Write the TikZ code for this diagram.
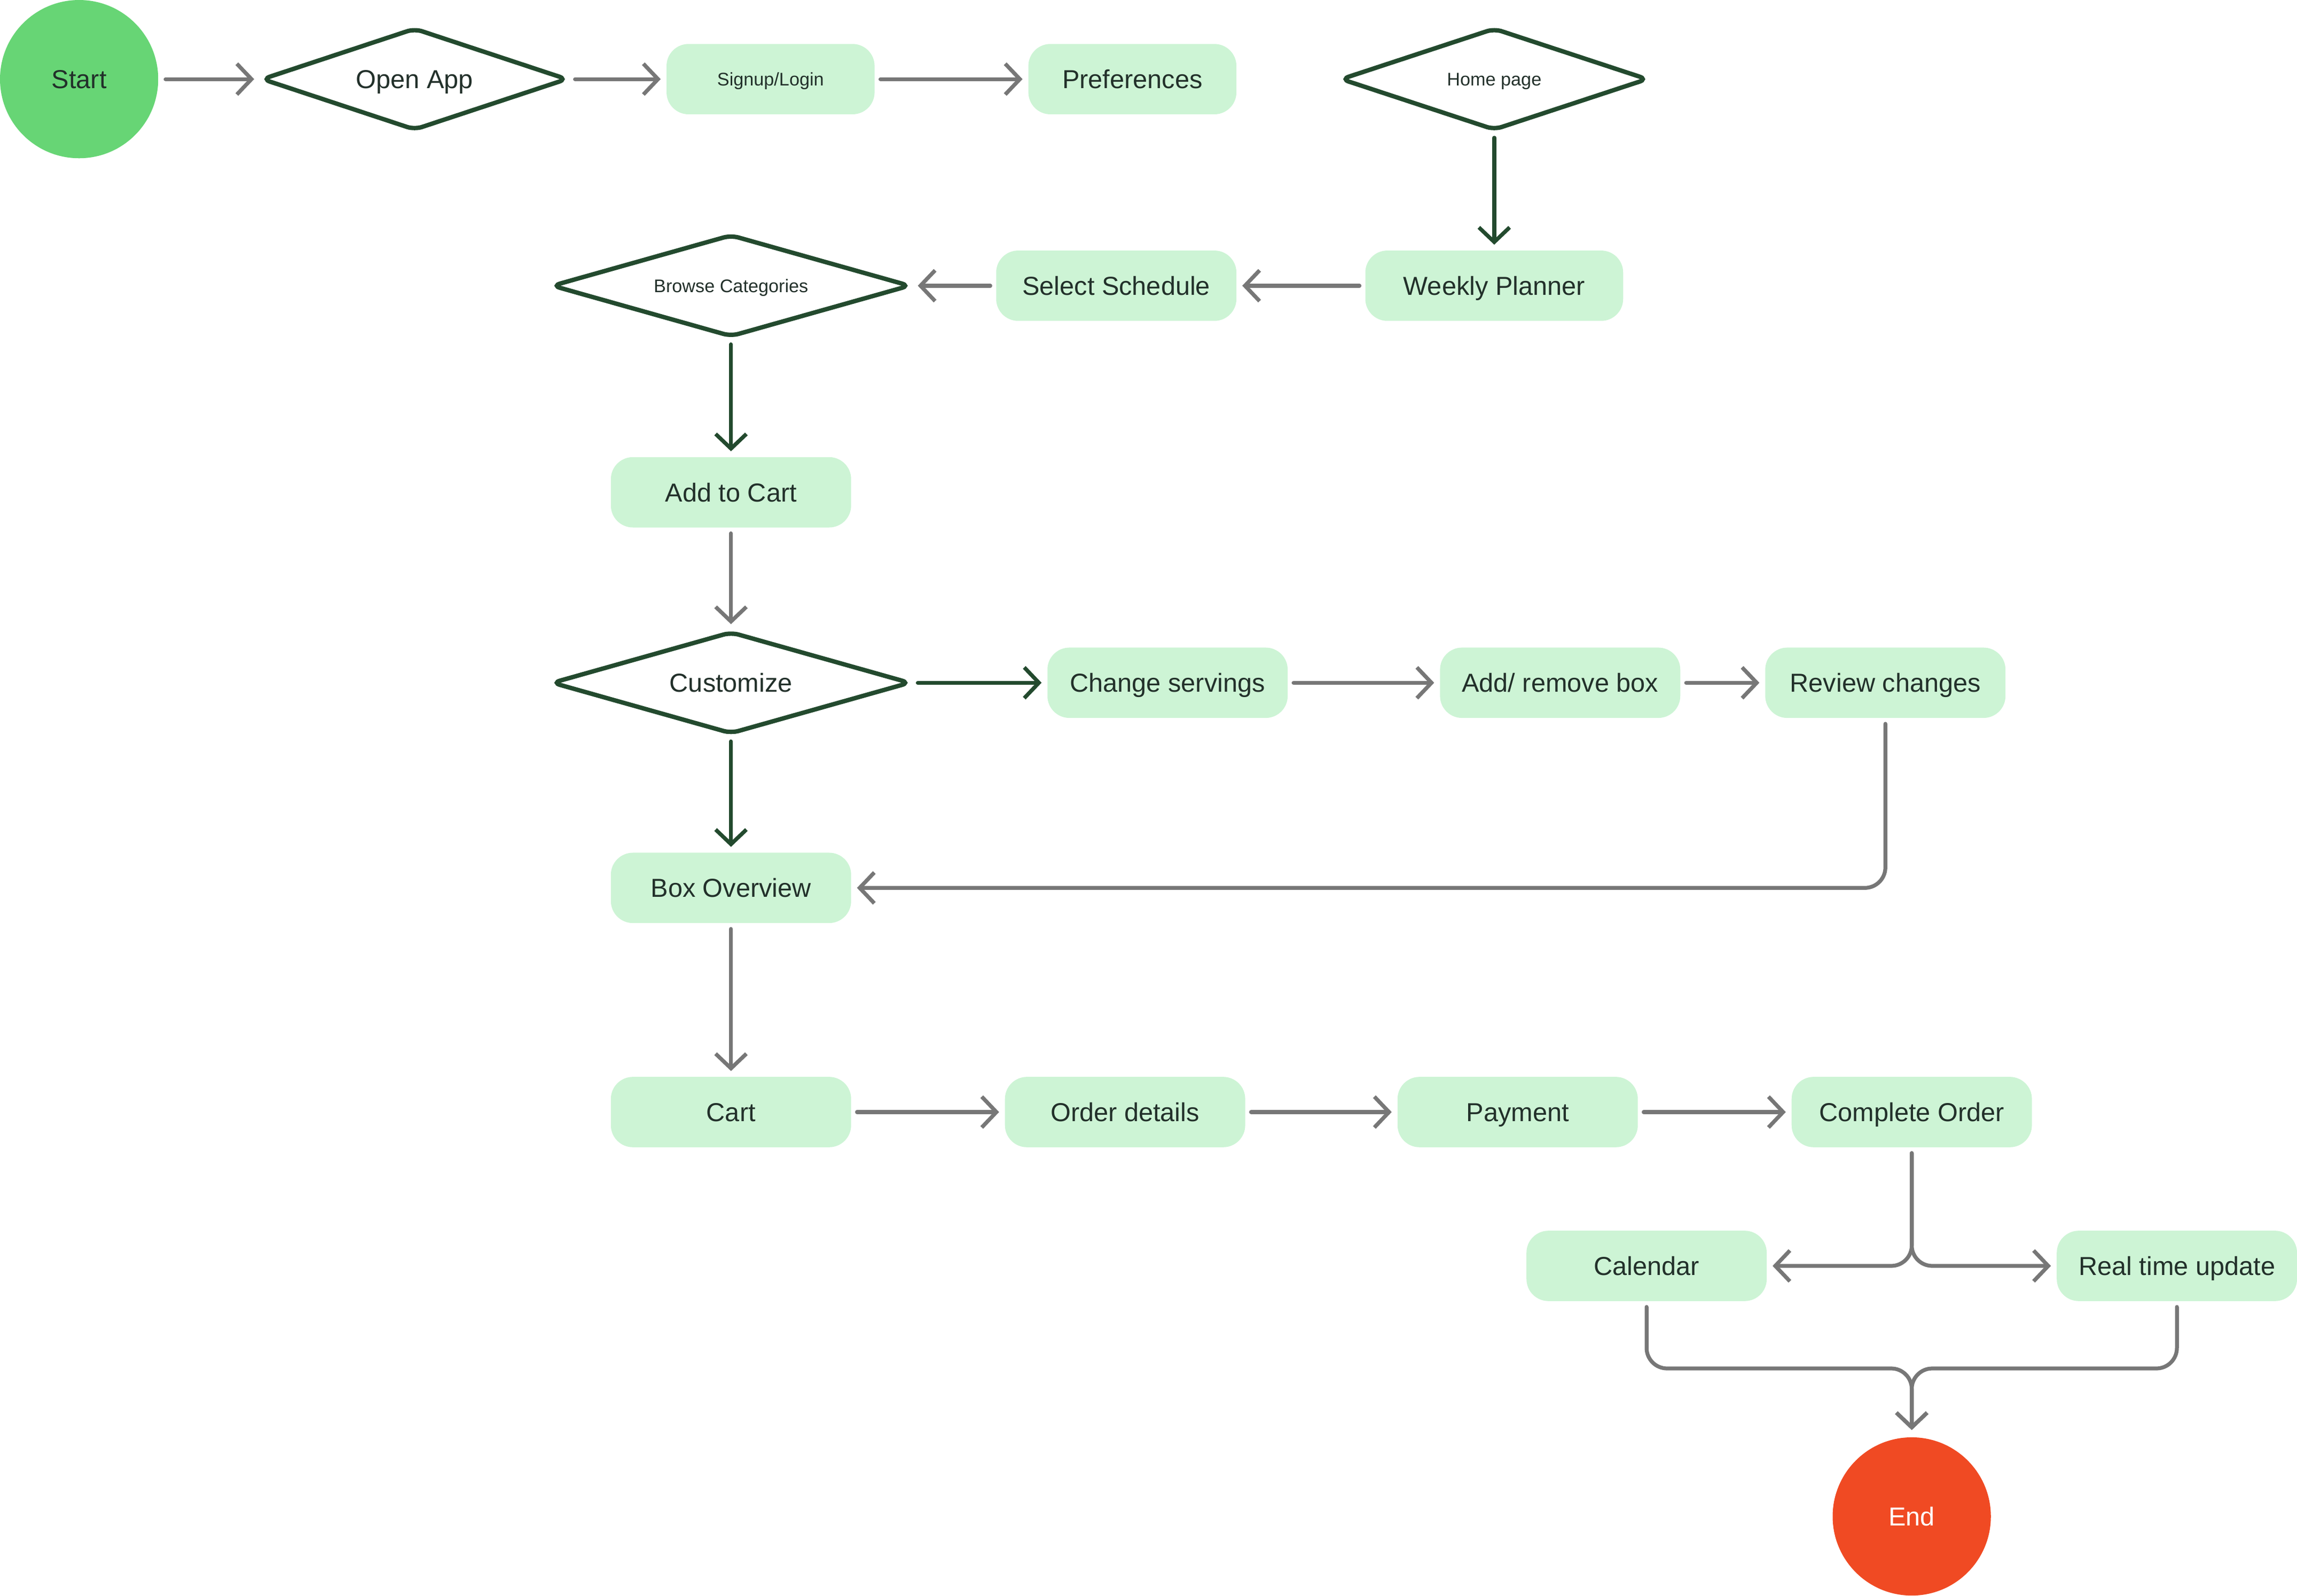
\documentclass[tikz,border=0pt]{standalone}
\usepackage{fontspec}
\setmainfont{Liberation Sans}
\usetikzlibrary{shapes.geometric,arrows.meta,positioning}
\definecolor{startgreen}{HTML}{67D575}
\definecolor{endred}{HTML}{F04A23}
\definecolor{boxfill}{HTML}{CDF4D5}
\definecolor{darkgreen}{HTML}{234A2E}
\definecolor{linegray}{HTML}{777777}
\definecolor{textdark}{HTML}{22302A}

\begin{document}
\begin{tikzpicture}[node distance=28mm]
\tikzstyle{stepbox}=[rectangle,rounded corners=0.3cm,fill=boxfill,text=textdark,
minimum width=3.28cm,minimum height=0.96cm,inner sep=0pt,outer sep=0.08cm,
font=\fontsize{10.1}{12}\selectfont,text height=9.3pt,text depth=2pt]
\tikzstyle{decision}=[diamond,aspect=3.4,draw=darkgreen,line width=1.7pt,fill=white,
rounded corners=3pt,minimum width=4.94cm,minimum height=1.44cm,
inner sep=0pt,outer sep=0.08cm,text=textdark,
font=\fontsize{10.1}{12}\selectfont,text height=9.3pt,text depth=2pt]
\tikzstyle{terminal}=[circle,minimum size=2.16cm,inner sep=0pt,outer sep=0.1cm,
font=\fontsize{10.1}{12}\selectfont,text height=9.3pt,text depth=2pt]
\tikzstyle{small}=[font=\fontsize{7.1}{9}\selectfont,text height=6.6pt,text depth=1.5pt]
\tikzstyle{garrow}=[-{Straight Barb[length=2mm,width=4.2mm]},draw=linegray,
line width=1.5pt,line cap=round,line join=round]
\tikzstyle{darrow}=[garrow,draw=darkgreen]

\useasboundingbox (0,0) rectangle (31.36,-21.78);

\node[terminal,fill=startgreen,text=textdark] at (1.08,-1.08) (start) {Start};
\node[decision,right of=start,xshift=1.78cm,minimum width=4.22cm,aspect=2.9] (openapp) {Open App};
\node[stepbox,small,right of=openapp,xshift=2.06cm,minimum width=2.84cm] (signup) {Signup/Login};
\node[stepbox,right of=signup,xshift=2.14cm,minimum width=2.84cm] (prefs) {Preferences};
\node[decision,small,right of=prefs,xshift=2.14cm,minimum width=4.24cm,aspect=2.9] (home) {Home page};
\node[stepbox,below of=home,yshift=-0.2mm,minimum width=3.52cm] (weekly) {Weekly Planner};
\node[stepbox,left of=weekly,xshift=-2.36cm] (schedule) {Select Schedule};
\node[decision,small,left of=schedule,xshift=-2.46cm] (browse) {Browse Categories};
\node[stepbox,below of=browse,yshift=-0.2mm] (addcart) {Add to Cart};
\node[decision,below of=addcart,yshift=2mm] (custom) {Customize};
\node[stepbox,right of=custom,xshift=3.16cm] (servings) {Change servings};
\node[stepbox,right of=servings,xshift=2.56cm] (addbox) {Add/ remove box};
\node[stepbox,right of=addbox,xshift=1.64cm] (review) {Review changes};
\node[stepbox,below of=custom] (overview) {Box Overview};
\node[stepbox,below of=overview,yshift=-2.6mm] (cart) {Cart};
\node[stepbox,right of=cart,xshift=2.58cm] (details) {Order details};
\node[stepbox,right of=details,xshift=2.56cm] (payment) {Payment};
\node[stepbox,right of=payment,xshift=2.58cm] (complete) {Complete Order};
\node[stepbox,below of=complete,xshift=-3.62cm,yshift=7mm] (calendar) {Calendar};
\node[stepbox,below of=complete,xshift=3.62cm,yshift=7mm] (realtime) {Real time update};
\node[terminal,fill=endred,text=white,below of=complete,yshift=-2.72cm] (end) {End};
\coordinate[above of=end,yshift=-7.8mm] (join);

% top row
\path[garrow] (start) edge (openapp);
\path[garrow] (openapp) edge (signup);
\path[garrow] (signup) edge (prefs);
\path[darrow] (home) edge (weekly);
\path[garrow] (weekly) edge (schedule);
\path[garrow] (schedule) edge (browse);
\path[darrow] (browse) edge (addcart);
\path[garrow] (addcart) edge (custom);
% customize branch
\path[darrow] (custom) edge (servings);
\path[garrow] (servings) edge (addbox);
\path[garrow] (addbox) edge (review);
\draw[garrow,rounded corners=0.28cm] (review) |- (overview);
\path[darrow] (custom) edge (overview);
% checkout
\path[garrow] (overview) edge (cart);
\path[garrow] (cart) edge (details);
\path[garrow] (details) edge (payment);
\path[garrow] (payment) edge (complete);
\draw[garrow,rounded corners=0.28cm] (complete) |- (calendar);
\draw[garrow,rounded corners=0.28cm] (complete) |- (realtime);
\draw[garrow,rounded corners=0.28cm] (calendar) |- (join) -- (end);
\draw[garrow,rounded corners=0.28cm] (realtime) |- (join) -- (end);

\end{tikzpicture}
\end{document}
